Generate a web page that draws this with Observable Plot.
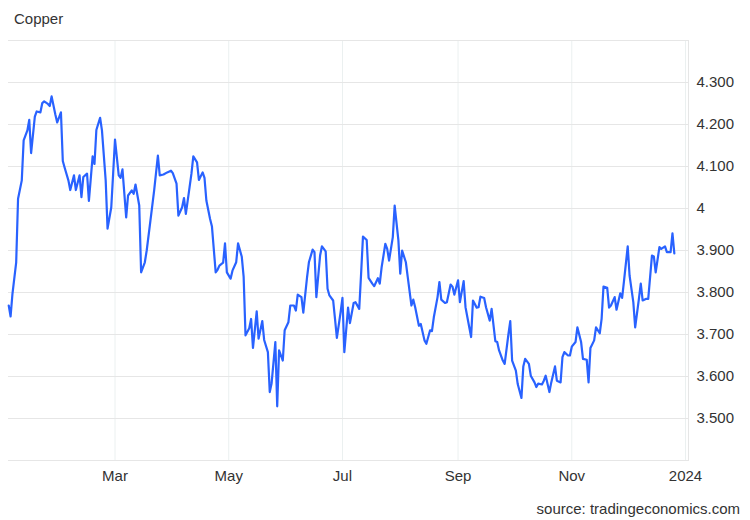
<!DOCTYPE html>
<html>
<head>
<meta charset="utf-8">
<script src="https://cdn.jsdelivr.net/npm/d3@7"></script>
<script src="https://cdn.jsdelivr.net/npm/@observablehq/plot@0.6"></script>
<style>
  html, body { margin: 0; padding: 0; background: #fff; }
  #wrap { position: relative; width: 750px; height: 520px; font-family: "Liberation Sans", Arial, sans-serif; }
  #title { position: absolute; left: 14px; top: 11px; font-size: 15px; line-height: 15px; color: #333; }
  #source { position: absolute; right: 10px; top: 501px; font-size: 15px; line-height: 15px; color: #333; }
</style>
</head>
<body>
<div id="wrap">
  <div id="chart"></div>
  <div id="title">Copper</div>
  <div id="source">source: tradingeconomics.com</div>
</div>
<script>
const dates = [
"2023-01-03","2023-01-04","2023-01-05","2023-01-07","2023-01-08","2023-01-10","2023-01-11","2023-01-13","2023-01-14","2023-01-15",
"2023-01-17","2023-01-18","2023-01-20","2023-01-21","2023-01-22","2023-01-24","2023-01-25","2023-01-26","2023-01-28","2023-01-29",
"2023-01-31","2023-02-01","2023-02-02","2023-02-04","2023-02-05","2023-02-07","2023-02-08","2023-02-10","2023-02-11","2023-02-12",
"2023-02-14","2023-02-15","2023-02-17","2023-02-18","2023-02-19","2023-02-21","2023-02-22","2023-02-24","2023-02-25","2023-02-27",
"2023-02-28","2023-03-01","2023-03-03","2023-03-04","2023-03-05","2023-03-07","2023-03-08","2023-03-10","2023-03-11","2023-03-12",
"2023-03-14","2023-03-15","2023-03-17","2023-03-18","2023-03-20","2023-03-22","2023-03-24","2023-03-25","2023-03-27","2023-03-29",
"2023-03-31","2023-04-01","2023-04-03","2023-04-04","2023-04-06","2023-04-07","2023-04-08","2023-04-10","2023-04-11","2023-04-12",
"2023-04-14","2023-04-15","2023-04-17","2023-04-18","2023-04-19","2023-04-21","2023-04-22","2023-04-24","2023-04-25","2023-04-26",
"2023-04-28","2023-04-29","2023-04-30","2023-05-02","2023-05-03","2023-05-05","2023-05-06","2023-05-08","2023-05-09","2023-05-10",
"2023-05-12","2023-05-13","2023-05-14","2023-05-16","2023-05-17","2023-05-19","2023-05-20","2023-05-22","2023-05-23","2023-05-24",
"2023-05-26","2023-05-27","2023-05-28","2023-05-30","2023-05-31","2023-06-02","2023-06-03","2023-06-05","2023-06-06","2023-06-07",
"2023-06-09","2023-06-10","2023-06-12","2023-06-13","2023-06-15","2023-06-16","2023-06-17","2023-06-19","2023-06-20","2023-06-22",
"2023-06-23","2023-06-24","2023-06-26","2023-06-27","2023-06-28","2023-06-30","2023-07-01","2023-07-02","2023-07-04","2023-07-05",
"2023-07-07","2023-07-08","2023-07-10","2023-07-11","2023-07-12","2023-07-14","2023-07-15","2023-07-17","2023-07-18","2023-07-20",
"2023-07-21","2023-07-22","2023-07-24","2023-07-25","2023-07-26","2023-07-28","2023-07-29","2023-07-31","2023-08-01","2023-08-02",
"2023-08-04","2023-08-05","2023-08-07","2023-08-08","2023-08-09","2023-08-11","2023-08-12","2023-08-14","2023-08-15","2023-08-17",
"2023-08-18","2023-08-19","2023-08-21","2023-08-22","2023-08-23","2023-08-25","2023-08-26","2023-08-28","2023-08-29","2023-08-30",
"2023-09-01","2023-09-02","2023-09-04","2023-09-05","2023-09-06","2023-09-08","2023-09-09","2023-09-11","2023-09-12","2023-09-13",
"2023-09-15","2023-09-16","2023-09-18","2023-09-19","2023-09-21","2023-09-22","2023-09-23","2023-09-25","2023-09-26","2023-09-28",
"2023-09-29","2023-09-30","2023-10-02","2023-10-03","2023-10-05","2023-10-06","2023-10-07","2023-10-09","2023-10-10","2023-10-12",
"2023-10-13","2023-10-14","2023-10-16","2023-10-17","2023-10-18","2023-10-20","2023-10-21","2023-10-23","2023-10-24","2023-10-26",
"2023-10-27","2023-10-28","2023-10-30","2023-10-31","2023-11-01","2023-11-03","2023-11-04","2023-11-06","2023-11-07","2023-11-09",
"2023-11-10","2023-11-11","2023-11-13","2023-11-14","2023-11-16","2023-11-17","2023-11-18","2023-11-20","2023-11-21","2023-11-22",
"2023-11-24","2023-11-25","2023-11-27","2023-11-28","2023-11-29","2023-12-01","2023-12-02","2023-12-04","2023-12-05","2023-12-07",
"2023-12-08","2023-12-09","2023-12-11","2023-12-12","2023-12-14","2023-12-15","2023-12-16","2023-12-18","2023-12-19","2023-12-21",
"2023-12-22","2023-12-24","2023-12-25","2023-12-26"
];
const prices = [
3.769,3.743,3.797,3.872,4.023,4.067,4.162,4.186,4.211,4.132,
4.219,4.231,4.229,4.251,4.255,4.249,4.244,4.267,4.224,4.205,
4.229,4.113,4.097,4.067,4.044,4.079,4.044,4.079,4.027,4.075,
4.083,4.018,4.124,4.106,4.187,4.216,4.186,4.067,3.952,4.003,
4.083,4.164,4.079,4.073,4.093,3.979,4.031,4.043,4.035,4.057,
4.007,3.848,3.872,3.900,3.971,4.043,4.126,4.079,4.081,4.086,
4.090,4.084,4.059,3.983,4.003,4.025,3.987,4.051,4.083,4.124,
4.110,4.068,4.086,4.073,4.019,3.975,3.957,3.848,3.854,3.864,
3.871,3.917,3.848,3.833,3.852,3.872,3.917,3.885,3.837,3.698,
3.715,3.737,3.668,3.755,3.690,3.732,3.687,3.658,3.563,3.584,
3.682,3.529,3.662,3.638,3.710,3.729,3.769,3.769,3.757,3.795,
3.789,3.752,3.836,3.872,3.902,3.896,3.789,3.888,3.910,3.898,
3.809,3.793,3.781,3.737,3.692,3.753,3.787,3.658,3.764,3.727,
3.775,3.777,3.761,3.845,3.933,3.925,3.835,3.821,3.815,3.834,
3.821,3.860,3.916,3.904,3.876,3.932,4.007,3.924,3.845,3.900,
3.872,3.837,3.769,3.783,3.765,3.721,3.725,3.686,3.678,3.710,
3.708,3.741,3.789,3.825,3.783,3.775,3.777,3.819,3.814,3.795,
3.829,3.777,3.827,3.765,3.741,3.694,3.781,3.764,3.765,3.790,
3.787,3.765,3.733,3.761,3.684,3.682,3.662,3.638,3.630,3.700,
3.732,3.638,3.614,3.582,3.549,3.624,3.642,3.630,3.602,3.586,
3.575,3.583,3.581,3.590,3.602,3.563,3.586,3.624,3.590,3.586,
3.646,3.658,3.650,3.650,3.671,3.682,3.717,3.682,3.642,3.640,
3.586,3.668,3.686,3.717,3.703,3.737,3.814,3.811,3.764,3.769,
3.789,3.759,3.798,3.787,3.827,3.910,3.840,3.777,3.717,3.785,
3.821,3.781,3.785,3.785,3.888,3.886,3.848,3.908,3.904,3.910,
3.896,3.896,3.941,3.893
];
const xTickDates = ["2023-03-01","2023-05-01","2023-07-01","2023-09-01","2023-11-01","2024-01-01"];
const yTickValues = [3.5, 3.6, 3.7, 3.8, 3.9, 4.0, 4.1, 4.2, 4.3];
const yGridValues = [3.4, 3.5, 3.6, 3.7, 3.8, 3.9, 4.0, 4.1, 4.2, 4.3, 4.4];
const xDomain = ["2023-01-02T21:00:00Z", "2024-01-02T14:24:00Z"];
const yDomain = [3.4, 4.4];

const data = dates.map((d, i) => ({date: new Date(d), value: prices[i]}));
const xTicks = xTickDates.map(d => new Date(d));
const monthFmt = d3.utcFormat("%b");

const chart = Plot.plot({
  width: 750,
  height: 520,
  marginTop: 40,
  marginBottom: 60,
  marginLeft: 8,
  marginRight: 62,
  style: {fontFamily: '"Liberation Sans", Arial, sans-serif', fontSize: "15px", color: "#333", background: "#fff"},
  x: {type: "utc", domain: xDomain.map(d => new Date(d))},
  y: {domain: yDomain},
  marks: [
    Plot.gridX(xTicks, {stroke: "#ebf0f0", strokeOpacity: 1}),
    Plot.gridY(yGridValues, {stroke: "#e6e6e6", strokeOpacity: 1}),
    Plot.frame({anchor: "right", stroke: "#e6e6e6"}),
    Plot.axisX(xTicks, {anchor: "bottom", tickSize: 0, tickPadding: 10, label: null,
      tickFormat: d => d.getUTCMonth() === 0 ? String(d.getUTCFullYear()) : monthFmt(d), fill: "#333"}),
    Plot.axisY(yTickValues, {anchor: "right", tickSize: 0, tickPadding: 8, label: null,
      tickFormat: d => Math.abs(d - 4) < 1e-9 ? "4" : d.toFixed(3), fill: "#333"}),
    Plot.line(data, {x: "date", y: "value", stroke: "#2962ff", strokeWidth: 2.2, strokeLinejoin: "round"})
  ]
});
document.getElementById("chart").appendChild(chart);
</script>
</body>
</html>
